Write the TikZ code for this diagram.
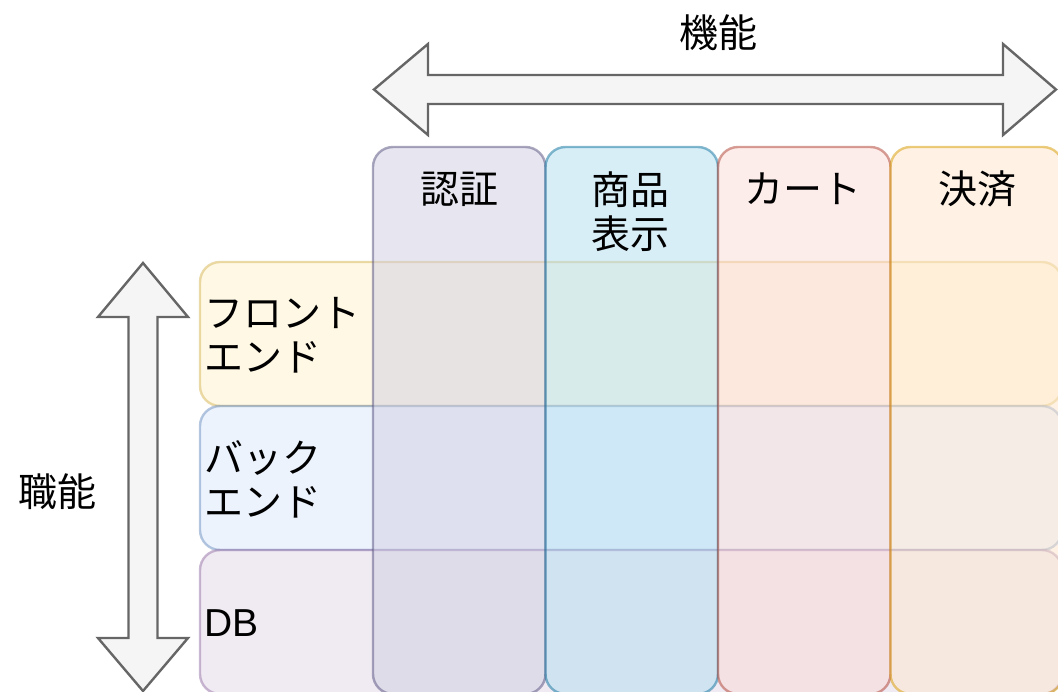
\documentclass[tikz,border=0pt]{standalone}
\usepackage{fontspec}
\setmainfont{Liberation Sans}
\newfontfamily\jp{Noto Sans CJK JP}
\definecolor{rowAf}{HTML}{FFF2CC}\definecolor{rowAs}{HTML}{D6B656}
\definecolor{rowBf}{HTML}{DAE8FC}\definecolor{rowBs}{HTML}{6C8EBF}
\definecolor{rowCf}{HTML}{E1D5E7}\definecolor{rowCs}{HTML}{9673A6}
\definecolor{colAf}{HTML}{D0CEE2}\definecolor{colAs}{HTML}{56517E}
\definecolor{colBf}{HTML}{B1DDF0}\definecolor{colBs}{HTML}{10739E}
\definecolor{colCf}{HTML}{FAD9D5}\definecolor{colCs}{HTML}{AE4132}
\definecolor{colDf}{HTML}{FFE6CC}\definecolor{colDs}{HTML}{D79B00}
\definecolor{arrFill}{HTML}{F5F5F5}\definecolor{arrLine}{HTML}{666666}
\begin{document}
\begin{tikzpicture}[x=1pt,y=-1pt,
  font=\jp\fontsize{39}{44}\selectfont,
  cell/.style={draw, line width=2.4pt, rounded corners=20pt, fill opacity=0.5, draw opacity=0.5,
    inner sep=0pt, outer sep=0pt, anchor=north west},
  rowcell/.style={cell, minimum width=862pt, minimum height=144pt},
  colcell/.style={cell, minimum width=172.5pt, minimum height=547pt},
  lbl/.style={inner sep=0pt, text=black, align=center},
  rowlbl/.style={inner sep=0pt, text=black, align=left, anchor=west},
  blockarrow/.style={draw=arrLine, fill=arrFill, line width=2.4pt, line join=miter}]
\useasboundingbox (0,0) rectangle (1058,692);
\clip (0,0) rectangle (1058,692);
% rows
\node[rowcell, fill=rowAf, draw=rowAs] (front) at (200,262) {};
\node[rowcell, fill=rowBf, draw=rowBs] (back) at (200,406) {};
\node[rowcell, fill=rowCf, draw=rowCs] (db) at (200,550) {};
% columns
\node[colcell, fill=colAf, draw=colAs] (auth) at (373,147) {};
\node[colcell, fill=colBf, draw=colBs] (prod) at (545.5,147) {};
\node[colcell, fill=colCf, draw=colCs] (cart) at (718,147) {};
\node[colcell, fill=colDf, draw=colDs] (pay) at (890.5,147) {};
% arrows
\draw[blockarrow] (374,89.5) -- (428,44) -- (428,75) -- (1003,75) -- (1003,44) -- (1056,89.5)
  -- (1003,135) -- (1003,104) -- (428,104) -- (428,135) -- cycle;
\draw[blockarrow] (143,263) -- (188,317) -- (157.5,317) -- (157.5,638) -- (188,638) -- (143,691)
  -- (98,638) -- (128.5,638) -- (128.5,317) -- (98,317) -- cycle;
% labels
\node[lbl] (kinou) at (718,33) {機能};
\node[lbl] (shokunou) at (57,492) {職能};
\node[lbl] (hAuth) at (459,189) {認証};
\node[lbl] (hProd) at (630,211.5) {商品\\表示};
\node[lbl] (hCart) at (803,189) {カート};
\node[lbl] (hPay) at (977,189) {決済};
\node[rowlbl] (lFront) at (204,335) {フロント\\エンド};
\node[rowlbl] (lBack) at (204,479) {バック\\エンド};
\node[rowlbl] (lDb) at (204,623) {\rmfamily DB};
\end{tikzpicture}
\end{document}
